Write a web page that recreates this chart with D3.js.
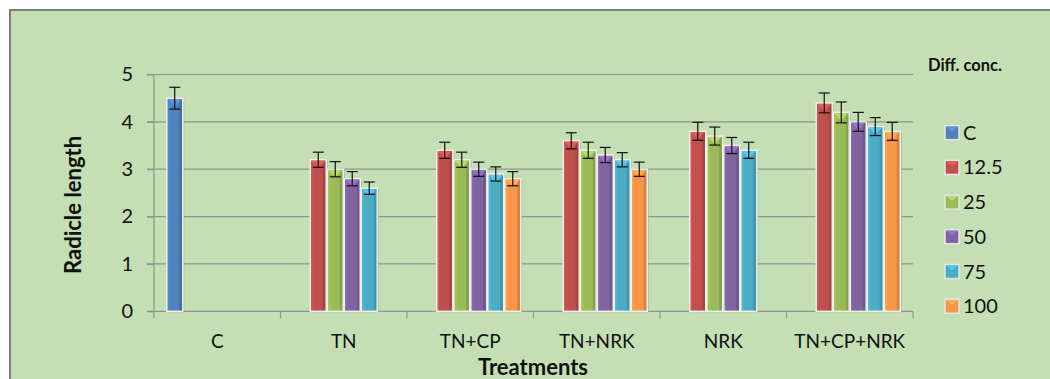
<!DOCTYPE html>
<html>
<head>
<meta charset="utf-8">
<script src="https://cdn.jsdelivr.net/npm/d3@7"></script>
<style>
  body { margin: 0; background: #fff; }
  svg { display: block; font-family: Lato, "Open Sans", sans-serif; }
</style>
</head>
<body>
<div id="chart"></div>
<script>
/* DATA */
const categories = ["C", "TN", "TN+CP", "TN+NRK", "NRK", "TN+CP+NRK"];
const series = ["C", "12.5", "25", "50", "75", "100"];
const colors = ["#4f81bd", "#c0504d", "#9bbb59", "#8064a2", "#4bacc6", "#f79646"];
const yTicks = [0, 1, 2, 3, 4, 5];

// one array per series, value per category (null = no bar)
const valC   = [4.5, null, null, null, null, null];
const val125 = [null, 3.2, 3.4, 3.6, 3.8, 4.4];
const val25  = [null, 3.0, 3.2, 3.4, 3.7, 4.2];
const val50  = [null, 2.8, 3.0, 3.3, 3.5, 4.0];
const val75  = [null, 2.6, 2.9, 3.2, 3.4, 3.9];
const val100 = [null, null, 2.8, 3.0, null, 3.8];

// error bar half-lengths
const errC   = [0.23, null, null, null, null, null];
const err125 = [null, 0.16, 0.17, 0.17, 0.19, 0.21];
const err25  = [null, 0.16, 0.16, 0.17, 0.19, 0.22];
const err50  = [null, 0.15, 0.15, 0.16, 0.17, 0.20];
const err75  = [null, 0.13, 0.15, 0.15, 0.17, 0.19];
const err100 = [null, null, 0.15, 0.15, null, 0.19];

const allVals = [valC, val125, val25, val50, val75, val100];
const allErrs = [errC, err125, err25, err50, err75, err100];

/* LAYOUT */
const width = 1050, height = 379;
const plot = {left: 154, right: 913, top: 74.5, bottom: 311.3};

const svg = d3.select("#chart").append("svg")
  .attr("width", width).attr("height", height);

// chart area background + border
svg.append("rect")
  .attr("x", 10).attr("y", 10)
  .attr("width", width + 10).attr("height", height + 10)
  .attr("fill", "#c4dfb4")
  .attr("stroke", "#7b807a").attr("stroke-width", 2);

const x0 = d3.scaleBand().domain(categories).range([plot.left, plot.right]).paddingInner(0);
const x1 = d3.scaleBand().domain(series).range([0, x0.bandwidth()]).paddingInner(0).paddingOuter(0.72);
const y = d3.scaleLinear().domain([0, 5]).range([plot.bottom, plot.top]);

// gridlines
svg.append("g").selectAll("line")
  .data(yTicks.filter(d => d > 0))
  .join("line")
  .attr("x1", plot.left - 7).attr("x2", plot.right)
  .attr("y1", d => y(d)).attr("y2", d => y(d))
  .attr("stroke", "#8e958b").attr("stroke-width", 1.2);

// y axis
const yAxis = d3.axisLeft(y).tickValues(yTicks).tickFormat(d3.format("d")).tickSize(7).tickPadding(14);
const yAxisGroup = svg.append("g")
  .attr("transform", `translate(${plot.left},0)`)
  .call(yAxis);
yAxisGroup.select(".domain").attr("stroke", "#8e958b").attr("stroke-width", 1.2)
  .attr("d", `M0,${plot.top}V${plot.bottom + 7}`);
yAxisGroup.selectAll(".tick line").attr("stroke", "#8e958b").attr("stroke-width", 1.2);
yAxisGroup.selectAll(".tick text").attr("font-size", 20).attr("fill", "#111")
  .attr("font-family", "Lato, sans-serif");

// x axis
const xAxisGroup = svg.append("g")
  .attr("transform", `translate(0,${plot.bottom})`);
xAxisGroup.append("line")
  .attr("x1", plot.left - 7).attr("x2", plot.right)
  .attr("stroke", "#8e958b").attr("stroke-width", 1.2);
xAxisGroup.selectAll(".ctick")
  .data(categories.slice(1).map(c => x0(c)).concat([plot.right]))
  .join("line")
  .attr("class", "ctick")
  .attr("x1", d => d).attr("x2", d => d)
  .attr("y1", 0).attr("y2", 7)
  .attr("stroke", "#8e958b").attr("stroke-width", 1.2);
xAxisGroup.selectAll(".clabel")
  .data(categories)
  .join("text")
  .attr("class", "clabel")
  .attr("x", d => x0(d) + x0.bandwidth() / 2)
  .attr("y", 37)
  .attr("text-anchor", "middle")
  .attr("font-size", 19).attr("fill", "#111")
  .text(d => d);

// axis titles
svg.append("text")
  .attr("transform", `translate(81,${(plot.top + plot.bottom) / 2 + 12}) rotate(-90)`)
  .attr("text-anchor", "middle")
  .attr("font-size", 22).attr("font-weight", "bold").attr("fill", "#111")
  .text("Radicle length");

svg.append("text")
  .attr("x", 533).attr("y", 375)
  .attr("text-anchor", "middle")
  .attr("font-size", 22).attr("font-weight", "bold").attr("fill", "#111")
  .text("Treatments");

// shading helpers
function shade(c, k) { return d3.color(c).darker(k).formatHex(); }
function tint(c, k) { return d3.color(c).brighter(k).formatHex(); }

const defs = svg.append("defs");
colors.forEach((c, i) => {
  const g = defs.append("linearGradient").attr("id", "grad" + i)
    .attr("x1", "0%").attr("x2", "100%");
  g.append("stop").attr("offset", "0%").attr("stop-color", tint(c, 0.25));
  g.append("stop").attr("offset", "18%").attr("stop-color", tint(c, 0.1));
  g.append("stop").attr("offset", "22%").attr("stop-color", c);
  g.append("stop").attr("offset", "75%").attr("stop-color", c);
  g.append("stop").attr("offset", "80%").attr("stop-color", shade(c, 0.35));
  g.append("stop").attr("offset", "100%").attr("stop-color", shade(c, 0.45));
});

// bars
const barData = [];
series.forEach((s, si) => {
  categories.forEach((c, ci) => {
    const v = allVals[si][ci];
    if (v != null) barData.push({s, si, c, v, e: allErrs[si][ci]});
  });
});

const bw = x1.bandwidth();
const bars = svg.append("g").selectAll("g.bar")
  .data(barData)
  .join("g")
  .attr("class", "bar")
  .attr("transform", d => `translate(${x0(d.c) + x1(d.s)},0)`);

// soft shadow
bars.append("rect")
  .attr("x", 1).attr("y", d => y(d.v) + 1)
  .attr("width", bw).attr("height", d => y(0) - y(d.v))
  .attr("fill", "#9aa896").attr("opacity", 0.6);

bars.append("rect")
  .attr("x", 0.5).attr("y", d => y(d.v))
  .attr("width", bw - 1).attr("height", d => y(0) - y(d.v))
  .attr("fill", d => `url(#grad${d.si})`)
  .attr("stroke", "#eef0ec").attr("stroke-width", 1.5);

// top cap triangle
bars.append("path")
  .attr("d", d => {
    const t = y(d.v) + 1;
    return `M1.5,${t}L${bw - 1.5},${t}L${bw / 2},${t + 7}Z`;
  })
  .attr("fill", d => tint(colors[d.si], 0.45));

// error bars
const errs = svg.append("g").selectAll("g.err")
  .data(barData.filter(d => d.e != null))
  .join("g")
  .attr("class", "err")
  .attr("transform", d => `translate(${x0(d.c) + x1(d.s) + bw / 2},0)`)
  .attr("stroke", "#111").attr("stroke-width", 1.2);
errs.append("line").attr("y1", d => y(d.v + d.e)).attr("y2", d => y(d.v - d.e));
errs.append("line").attr("x1", -5.5).attr("x2", 5.5)
  .attr("y1", d => y(d.v + d.e)).attr("y2", d => y(d.v + d.e));
errs.append("line").attr("x1", -5.5).attr("x2", 5.5)
  .attr("y1", d => y(d.v - d.e)).attr("y2", d => y(d.v - d.e));

// legend
svg.append("text")
  .attr("x", 928).attr("y", 71)
  .attr("font-size", 16.5).attr("font-weight", "bold").attr("fill", "#111")
  .text("Diff. conc.");

const legend = svg.append("g").selectAll("g.leg")
  .data(series)
  .join("g")
  .attr("class", "leg")
  .attr("transform", (d, i) => `translate(945,${132.7 + i * 34.7})`);
legend.append("rect")
  .attr("x", 0).attr("y", -7).attr("width", 14).attr("height", 14)
  .attr("fill", (d, i) => colors[i])
  .attr("stroke", "#e4e8e2").attr("stroke-width", 1.5);
legend.append("path")
  .attr("d", "M1,-6L13,-6L7,-1Z")
  .attr("fill", (d, i) => tint(colors[i], 0.45));
legend.append("text")
  .attr("x", 18).attr("y", 7)
  .attr("font-size", 20).attr("fill", "#111")
  .text(d => d);
</script>
</body>
</html>
